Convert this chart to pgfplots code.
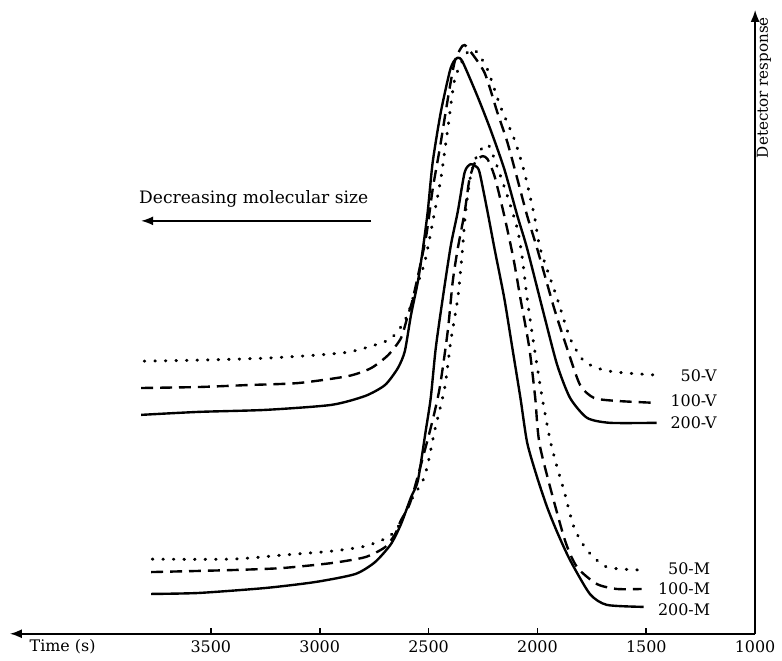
\documentclass[border=0pt]{standalone}
\usepackage{fontspec}
\setmainfont{DejaVu Serif}
\usepackage{pgfplots}
\pgfplotsset{compat=1.18}
\usetikzlibrary{arrows.meta}

\tikzset{
  solidc/.style={black,line width=1.2pt,smooth,tension=0.4,line join=round},
  dashc/.style={black,line width=1.2pt,smooth,tension=0.4,dash pattern=on 6pt off 3.5pt},
  dotc/.style={black,line width=1.5pt,smooth,tension=0.4,line cap=round,dash pattern=on 0.3pt off 5pt},
}

\begin{document}
\begin{tikzpicture}
\begin{axis}[
  scale only axis,
  width=374.5pt, height=313.5pt,
  x dir=reverse,
  xmin=1000, xmax=4423,
  ymin=0, ymax=627,
  axis x line=bottom, axis y line=right,
  axis line style={line width=0.8pt,-{Latex[length=6pt,width=4.5pt]}},
  xtick={1000,1500,2000,2500,3000,3500},
  ytick=\empty,
  tick align=inside,
  major tick length=3pt,
  tick style={line width=0.8pt,black},
  xticklabel style={font=\fontsize{8}{9}\selectfont},
  /pgf/number format/assume math mode=true,
  /pgf/number format/1000 sep={},
  clip=false,
]
% 200-V
\addplot[solidc] coordinates {
  (3820,220)(3555,223)(3249,225)(2947,230)(2791,239)(2700,250)(2641,267)
  (2609,284)(2581,320)(2549,354)(2526,387)(2504,424)(2481,474)(2444,524)
  (2403,565)(2385,575)(2366,579)(2344,575)(2275,540)(2216,507)(2152,467)
  (2092,420)(2047,387)(1969,320)(1909,270)(1850,237)(1772,217)(1667,212)(1452,212)};
% 100-V
\addplot[dashc] coordinates {
  (3820,247)(3555,248)(3326,250)(3098,252)(2869,259)(2764,267)(2686,280)
  (2627,297)(2595,320)(2572,337)(2513,397)(2481,447)(2449,487)(2412,537)
  (2380,575)(2344,591)(2321,589)(2243,564)(2184,524)(2138,494)(2092,457)
  (2047,420)(2001,387)(1923,327)(1864,287)(1804,250)(1740,237)(1635,234)(1452,232)};
% 50-V
\addplot[dotc] coordinates {
  (3806,274)(3555,275)(3249,277)(3020,280)(2869,283)(2764,289)(2686,295)
  (2641,304)(2604,317)(2586,327)(2558,347)(2517,374)(2472,424)(2444,457)
  (2412,507)(2380,557)(2330,582)(2298,587)(2275,584)(2229,567)(2170,530)
  (2106,497)(2060,464)(2014,420)(1987,387)(1909,337)(1850,297)(1786,274)
  (1695,265)(1590,262)(1452,260)};
% 200-M
\addplot[solidc] coordinates {
  (3774,40)(3555,41)(3249,46)(3020,52)(2837,60)(2746,72)(2673,90)(2627,110)
  (2581,137)(2549,154)(2513,204)(2490,237)(2467,287)(2435,337)(2398,390)
  (2366,424)(2334,464)(2307,472)(2284,470)(2266,464)(2229,424)(2197,387)
  (2152,337)(2115,287)(2078,237)(2047,192)(2001,157)(1955,127)(1909,102)
  (1850,74)(1759,40)(1681,29)(1512,27)};
% 100-M
\addplot[dashc] coordinates {
  (3774,62)(3404,64)(3175,66)(2947,71)(2791,77)(2700,87)(2654,100)(2627,114)
  (2581,134)(2490,207)(2449,247)(2412,304)(2389,354)(2366,387)(2334,424)
  (2312,457)(2284,475)(2252,480)(2229,477)(2197,460)(2152,420)(2110,377)
  (2078,337)(2037,287)(2010,237)(1987,187)(1878,97)(1818,67)(1727,50)
  (1635,45)(1521,45)};
% 50-M
\addplot[dotc] coordinates {
  (3769,75)(3404,75)(3175,79)(2947,83)(2791,88)(2686,97)(2641,107)(2609,120)
  (2581,134)(2526,154)(2504,170)(2472,204)(2426,247)(2398,294)(2366,337)
  (2344,387)(2330,424)(2307,460)(2275,482)(2229,492)(2197,477)(2138,440)
  (2092,407)(2069,377)(2047,337)(2014,287)(1978,237)(1941,194)(1909,167)
  (1878,144)(1832,107)(1772,84)(1681,67)(1521,64)};

\begin{scope}[font=\fontsize{8}{9}\selectfont]
\node[anchor=east,inner sep=0pt] at (axis cs:1175,259) {50-V};
\node[anchor=east,inner sep=0pt] at (axis cs:1175,234) {100-V};
\node[anchor=east,inner sep=0pt] at (axis cs:1175,212) {200-V};
\node[anchor=east,inner sep=0pt] at (axis cs:1205,65) {50-M};
\node[anchor=east,inner sep=0pt] at (axis cs:1205,45) {100-M};
\node[anchor=east,inner sep=0pt] at (axis cs:1205,24) {200-M};
\node at (axis cs:4181,-13) {Time (s)};
\node[rotate=90,font=\fontsize{7.6}{9}\selectfont] at (axis cs:959,549) {Detector response};
\node[font=\fontsize{8.6}{10}\selectfont] at (axis cs:3303,437) {Decreasing molecular size};
\end{scope}
\draw[line width=0.7pt,-{Latex[length=6pt,width=4.5pt]}] (axis cs:2764,415) -- (axis cs:3820,415);

\coordinate (bbA) at (axis cs:4468.6,637);
\coordinate (bbB) at (axis cs:894.9,-24);
\end{axis}
\useasboundingbox (bbA) rectangle (bbB);
\end{tikzpicture}
\end{document}
